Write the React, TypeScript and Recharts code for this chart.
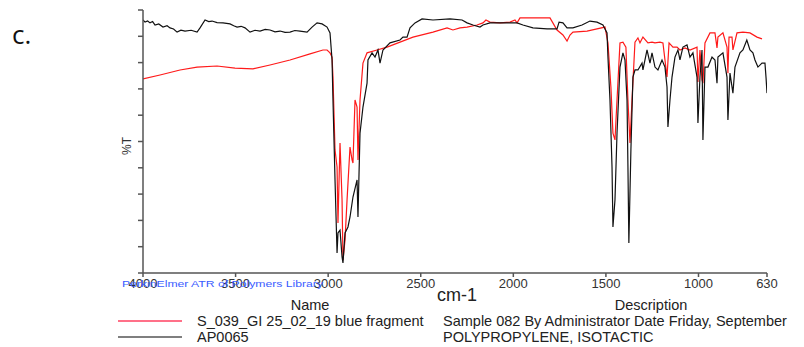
import React from "react";
import { LineChart, Line, XAxis, YAxis } from "recharts";

// wavenumber (cm-1), %T
const sampleSpectrum: [number, number][] = [
  [4000, 73.8], [3908, 75.3], [3800, 77.2], [3708, 78.3], [3600, 78.7], [3503, 77.9], [3406, 77.6],
  [3314, 79.1], [3206, 81.0], [3098, 83.3], [3028, 84.8], [3006, 84.8], [2990, 83.7], [2979, 82.1],
  [2974, 74.5], [2963, 46.8], [2952, 40.3], [2947, 19.0], [2936, 49.4], [2925, 27.8], [2920, 4.9],
  [2909, 12.5], [2898, 27.8], [2882, 47.9], [2871, 43.0], [2866, 41.8], [2855, 65.8], [2844, 63.1],
  [2839, 43.0], [2828, 65.8], [2812, 79.8], [2790, 83.7], [2736, 84.8], [2682, 85.9], [2612, 87.8],
  [2542, 89.7], [2434, 91.6], [2358, 93.2], [2326, 92.4], [2288, 93.2], [2250, 93.5], [2196, 94.3],
  [2164, 95.1], [2148, 96.2], [2126, 95.4], [2072, 95.1], [2018, 95.4], [1991, 96.2], [1980, 95.1],
  [1964, 97.0], [1894, 97.0], [1802, 97.0], [1764, 92.4], [1732, 90.5], [1710, 88.2], [1694, 90.5],
  [1678, 91.6], [1602, 92.0], [1548, 92.8], [1505, 93.5], [1489, 87.5], [1473, 70.7], [1462, 53.2],
  [1451, 50.6], [1440, 65.8], [1424, 87.5], [1408, 87.8], [1392, 85.9], [1381, 65.8], [1370, 49.4],
  [1359, 65.8], [1343, 87.8], [1327, 89.4], [1316, 87.5], [1300, 89.7], [1273, 87.5], [1251, 87.8],
  [1235, 87.5], [1208, 87.8], [1192, 87.5], [1181, 81.0], [1170, 74.5], [1159, 87.5], [1138, 85.9],
  [1116, 85.9], [1100, 84.8], [1073, 85.6], [1046, 84.8], [1008, 85.9], [1003, 72.6], [992, 84.8],
  [981, 73.4], [976, 72.2], [965, 87.5], [938, 91.3], [911, 91.3], [900, 85.6], [895, 89.7],
  [868, 91.3], [846, 85.9], [841, 76.0], [835, 89.7], [819, 89.7], [814, 84.8], [792, 91.3],
  [760, 91.6], [722, 91.3], [684, 89.7], [657, 89.0],
];

const referenceSpectrum: [number, number][] = [
  [4000, 96.2], [3989, 95.4], [3975, 95.8], [3962, 95.1], [3948, 95.6], [3935, 94.3], [3915, 94.7],
  [3892, 93.5], [3870, 94.0], [3854, 93.2], [3835, 92.8], [3816, 91.6], [3795, 92.3], [3773, 92.0],
  [3740, 92.3], [3708, 91.6], [3692, 93.2], [3665, 96.2], [3645, 95.6], [3627, 95.8], [3600, 95.2],
  [3568, 95.1], [3530, 94.7], [3510, 94.0], [3492, 93.5], [3470, 93.8], [3449, 93.2], [3422, 91.6],
  [3395, 92.3], [3368, 92.0], [3340, 92.6], [3314, 92.4], [3287, 91.7], [3260, 92.0], [3233, 91.5],
  [3206, 91.6], [3180, 92.2], [3152, 92.0], [3114, 91.6], [3087, 93.5], [3060, 95.1], [3033, 94.7],
  [3006, 93.5], [2990, 91.3], [2979, 81.0], [2974, 65.8], [2963, 35.4], [2952, 7.6], [2947, 15.2],
  [2936, 16.3], [2925, 6.1], [2920, 3.8], [2909, 15.2], [2893, 17.5], [2882, 21.3], [2866, 28.9],
  [2844, 35.4], [2839, 21.3], [2828, 53.2], [2812, 63.1], [2790, 72.2], [2785, 81.0], [2763, 83.7],
  [2747, 82.1], [2731, 84.8], [2720, 79.8], [2704, 84.8], [2666, 87.5], [2612, 88.6], [2596, 89.7],
  [2574, 89.7], [2558, 93.2], [2531, 95.1], [2493, 96.6], [2434, 96.2], [2342, 96.6], [2277, 96.2],
  [2250, 95.1], [2218, 94.3], [2180, 93.5], [2164, 94.3], [2126, 95.1], [2034, 95.1], [1980, 95.1],
  [1948, 94.3], [1894, 93.2], [1818, 92.8], [1764, 92.8], [1753, 95.4], [1732, 95.1], [1710, 93.2],
  [1678, 93.2], [1629, 94.3], [1586, 95.8], [1548, 95.4], [1516, 94.3], [1494, 91.3], [1489, 82.1],
  [1478, 65.8], [1467, 40.3], [1462, 17.5], [1451, 27.8], [1440, 53.2], [1424, 78.3], [1408, 83.7],
  [1397, 81.0], [1386, 65.8], [1381, 40.3], [1376, 11.4], [1365, 46.8], [1354, 74.5], [1343, 77.2],
  [1327, 77.2], [1305, 79.8], [1300, 77.2], [1278, 84.8], [1262, 79.8], [1251, 83.7], [1235, 78.3],
  [1219, 77.2], [1197, 81.0], [1181, 78.3], [1170, 70.7], [1165, 55.5], [1154, 65.8], [1143, 74.5],
  [1127, 82.1], [1111, 84.8], [1100, 81.0], [1084, 85.9], [1062, 86.7], [1046, 82.1], [1030, 83.7],
  [1008, 74.5], [1003, 57.0], [992, 74.5], [981, 84.8], [976, 50.6], [965, 78.3], [949, 78.3],
  [927, 82.1], [911, 81.0], [900, 72.2], [895, 82.1], [868, 83.7], [846, 74.5], [841, 58.2],
  [830, 76.0], [814, 68.4], [803, 78.3], [776, 83.7], [760, 84.8], [739, 88.6], [722, 84.8],
  [706, 83.7], [695, 81.0], [679, 78.3], [657, 79.8], [641, 79.8], [635, 74.1], [630, 68.4],
];

const xTicks = [4000, 3500, 3000, 2500, 2000, 1500, 1000, 630];
const yTicks = [0, 10, 20, 30, 40, 50, 60, 70, 80, 90, 100];

const seriesNames = ["S_039_GI 25_02_19 blue fragment", "AP0065"];
const seriesDescriptions = [
  "Sample 082 By Administrator Date Friday, September",
  "POLYPROPYLENE, ISOTACTIC",
];

const sampleData = sampleSpectrum.map(([wn, t]) => ({ wn, t }));
const referenceData = referenceSpectrum.map(([wn, t]) => ({ wn, t }));

const FONT = "'Liberation Sans', Arial, sans-serif";

export default function App() {
  return (
    <div
      style={{
        position: "absolute",
        left: 0,
        top: 0,
        width: 804,
        height: 347,
        background: "#fff",
        fontFamily: FONT,
        overflow: "hidden",
      }}
    >
      <LineChart
        width={804}
        height={347}
        margin={{ top: 10, right: 37, bottom: 44, left: 0 }}
      >
        <XAxis
          type="number"
          dataKey="wn"
          domain={[630, 4000]}
          reversed
          ticks={xTicks}
          interval={0}
          height={30}
          tickSize={4}
          tickMargin={2}
          stroke="#555"
          strokeWidth={1.5}
          tick={{ fontSize: 13, fill: "#333", fontFamily: FONT }}
          allowDataOverflow
        />
        <YAxis
          type="number"
          domain={[0, 100]}
          ticks={yTicks}
          width={143}
          tickSize={5}
          tickFormatter={() => ""}
          stroke="#555"
          strokeWidth={1.5}
          allowDataOverflow
        />
        <Line
          data={sampleData}
          dataKey="t"
          type="linear"
          stroke="#ff1a1a"
          strokeWidth={1.2}
          dot={false}
          isAnimationActive={false}
        />
        <Line
          data={referenceData}
          dataKey="t"
          type="linear"
          stroke="#111"
          strokeWidth={1.2}
          dot={false}
          isAnimationActive={false}
        />
      </LineChart>
      <svg
        width={804}
        height={347}
        style={{ position: "absolute", left: 0, top: 0, pointerEvents: "none" }}
      >
        <text x={12} y={44} fontFamily="'Open Sans', sans-serif" fontSize={26} fill="#111">
          c.
        </text>
        <text
          x={0}
          y={0}
          transform="translate(127,146) rotate(-90)"
          textAnchor="middle"
          dominantBaseline="central"
          fontSize={12}
          fill="#333"
          fontFamily={FONT}
        >
          %T
        </text>
        <text
          x={122}
          y={287}
          fontSize={9}
          fill="#3a5cff"
          fontFamily={FONT}
          textLength={201}
          lengthAdjust="spacingAndGlyphs"
        >
          PerkinElmer ATR of Polymers Library
        </text>
        <text x={457} y={295} textAnchor="middle" dominantBaseline="central" fontSize={18} fill="#222" fontFamily={FONT}>
          cm-1
        </text>
        <text x={310} y={305} textAnchor="middle" dominantBaseline="central" fontSize={14.5} fill="#222" fontFamily={FONT}>
          Name
        </text>
        <text x={651} y={305} textAnchor="middle" dominantBaseline="central" fontSize={14.5} fill="#222" fontFamily={FONT}>
          Description
        </text>
        <line x1={118} x2={182} y1={321} y2={321} stroke="#ff4060" strokeWidth={1.5} />
        <line x1={118} x2={182} y1={337} y2={337} stroke="#555" strokeWidth={1.5} />
        {seriesNames.map((n, i) => (
          <text key={n} x={197} y={321 + i * 16} dominantBaseline="central" fontSize={14.5} fill="#222" fontFamily={FONT}>
            {n}
          </text>
        ))}
        {seriesDescriptions.map((d, i) => (
          <text key={d} x={443} y={321 + i * 16} dominantBaseline="central" fontSize={14.5} fill="#222" fontFamily={FONT}>
            {d}
          </text>
        ))}
      </svg>
    </div>
  );
}
